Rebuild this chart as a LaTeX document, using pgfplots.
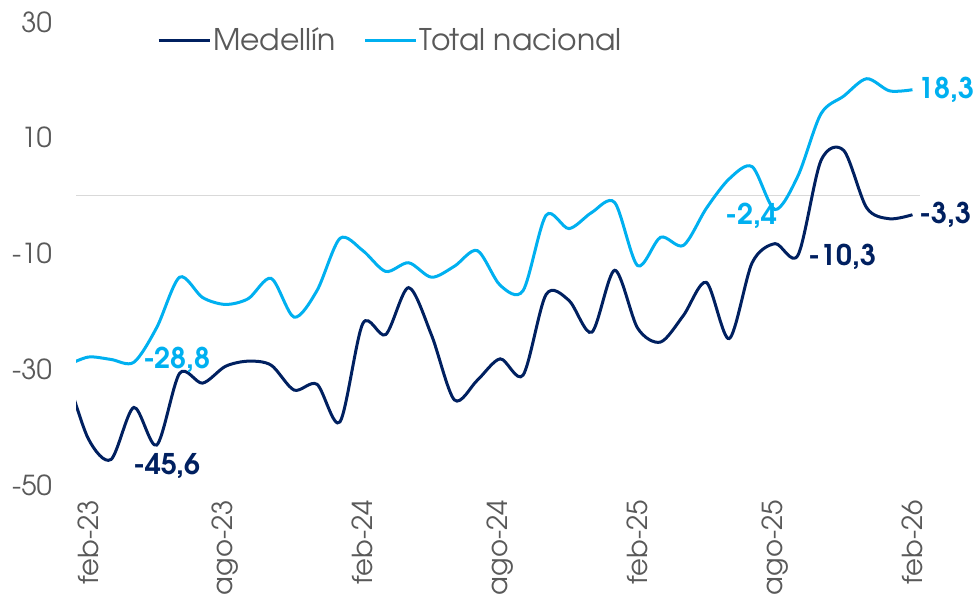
\documentclass[border=0pt]{standalone}
\usepackage{pgfplots}
\pgfplotsset{compat=1.18}
\usepackage{fontspec}
\setmainfont{TeX Gyre Adventor}
\definecolor{med}{HTML}{002060}
\definecolor{tot}{HTML}{00B0F0}
\definecolor{lab}{HTML}{595959}
\definecolor{zl}{HTML}{D9D9D9}
\pgfplotstableread{
i v
-1 -30
0 -41.9
1 -45.6
2 -36.6
3 -43.1
4 -30.7
5 -32.4
6 -29.5
7 -28.6
8 -29.3
9 -33.6
10 -32.6
11 -39.1
12 -22.1
13 -24.0
14 -15.9
15 -24.1
16 -35.3
17 -31.9
18 -28.2
19 -31.0
20 -17.1
21 -18.1
22 -23.6
23 -12.9
24 -22.9
25 -25.3
26 -20.7
27 -15.0
28 -24.7
29 -11.6
30 -8.3
31 -10.3
32 6.0
33 7.8
34 -2.1
35 -4.0
36 -3.3
}\med
\pgfplotstableread{
i v
-1 -29.5
0 -27.9
1 -28.3
2 -28.8
3 -22.8
4 -14.1
5 -17.6
6 -18.8
7 -17.8
8 -14.3
9 -21.0
10 -16.4
11 -7.4
12 -9.5
13 -13.1
14 -11.6
15 -14.1
16 -12.2
17 -9.5
18 -15.5
19 -16.4
20 -3.4
21 -5.7
22 -2.9
23 -1.2
24 -12.1
25 -7.2
26 -8.6
27 -2.2
28 2.9
29 5.0
30 -2.4
31 3.4
32 14.1
33 17.2
34 20.2
35 18.1
36 18.3
}\tot
\begin{document}
\begin{tikzpicture}[font=\fontsize{27bp}{31bp}\selectfont]
\useasboundingbox (0,0) rectangle (979bp,603bp);
\begin{axis}[
  at={(76bp,118bp)}, anchor=south west,
  scale only axis, width=844bp, height=463bp,
  xmin=-0.524, xmax=36.33, ymin=-50, ymax=30,
  axis line style={draw=none}, tick style={draw=none},
  major tick length=0pt,
  xtick={0,6,...,36},
  xticklabels={feb-23,ago-23,feb-24,ago-24,feb-25,ago-25,feb-26},
  ytick={-50,-30,-10,10,30},
  yticklabels={-50,-30,-10,10,30},
  xticklabel style={rotate=90, anchor=east, inner sep=0pt},
  yticklabel style={anchor=east, inner sep=0pt},
  xticklabel shift=15bp, yticklabel shift=24bp,
  ticklabel style={text=lab, font=\fontsize{27.5bp}{31bp}\selectfont},
  legend style={at={(0.096,0.961)}, anchor=west, draw=none, fill=none,
    text=lab, font=\fontsize{29.8bp}{33bp}\selectfont, inner sep=0pt,
    nodes={inner sep=2bp},
    /tikz/every even column/.append style={column sep=26bp}},
  legend columns=2,
  legend image code/.code={\draw[#1, line width=3bp] (0bp,0bp) -- (51bp,0bp);},
]
\draw[zl, line width=1.5bp] (axis cs:-0.524,0) -- (axis cs:36.33,0);
\addplot[med, line width=3bp, smooth, tension=0.5] table[x=i, y=v] {\med};
\addlegendentry{Medellín}
\addplot[tot, line width=3bp, smooth, tension=0.5] table[x=i, y=v] {\tot};
\addlegendentry{Total nacional}
\coordinate (t2) at (axis cs:2,-28.8);
\coordinate (m1) at (axis cs:1,-45.6);
\coordinate (t30) at (axis cs:30,-2.4);
\coordinate (m31) at (axis cs:31,-10.3);
\coordinate (t36) at (axis cs:36,18.3);
\coordinate (m36) at (axis cs:36,-3.3);
\end{axis}
\begin{scope}[font=\fontsize{28.5bp}{32bp}\selectfont\bfseries, inner sep=0pt]
\node[anchor=west, text=tot] at ([xshift=9bp, yshift=3bp]t2) {-28,8};
\node[anchor=west, text=med] at ([xshift=22bp, yshift=-6bp]m1) {-45,6};
\node[anchor=east, text=tot] at ([xshift=3bp, yshift=-6bp]t30) {-2,4};
\node[anchor=west, text=med] at ([xshift=10bp, yshift=-2bp]m31) {-10,3};
\node[anchor=west, text=tot] at ([xshift=6bp, yshift=0bp]t36) {18,3};
\node[anchor=west, text=med] at ([xshift=7bp, yshift=0bp]m36) {-3,3};
\end{scope}
\end{tikzpicture}
\end{document}
